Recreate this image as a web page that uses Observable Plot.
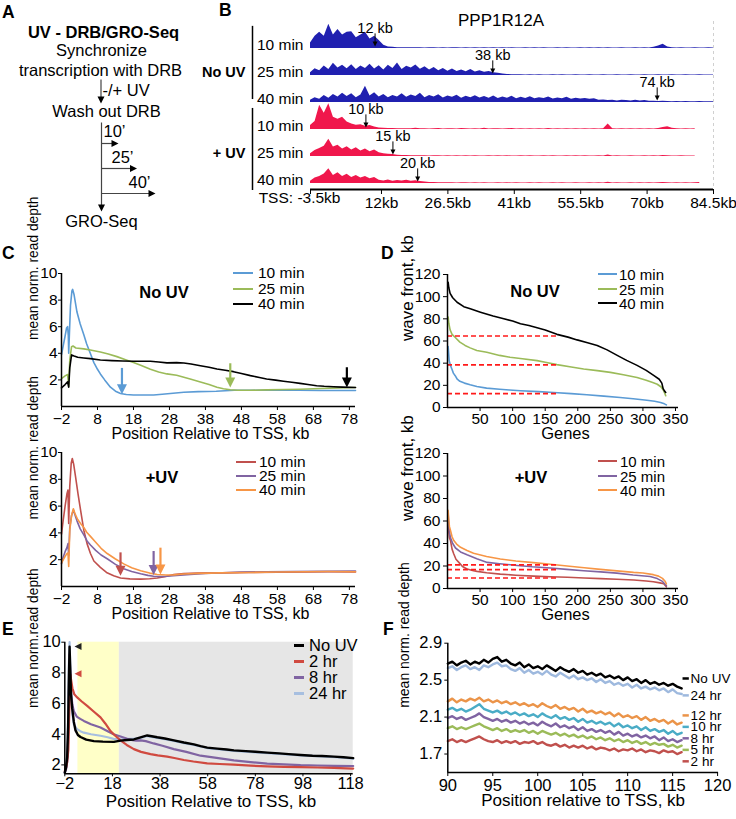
<!DOCTYPE html>
<html><head><meta charset="utf-8">
<script src="https://cdn.jsdelivr.net/npm/d3@7"></script>
<script src="https://cdn.jsdelivr.net/npm/@observablehq/plot@0.6"></script>
<style>
html,body{margin:0;padding:0;background:#fff;}
#root{position:relative;width:736px;height:819px;overflow:hidden;background:#fff;font-family:"Liberation Sans",Arial,Helvetica,sans-serif;color:#000;}
#root .lbl{position:absolute;white-space:nowrap;}
#root svg{position:absolute;overflow:visible;}
</style></head><body><div id="root"></div>
<script>
// ================= DATA =================
// Panel A (schematic)
const aTitle = "UV - DRB/GRO-Seq";
const aSteps = ["Synchronize", "transcription with DRB", "Wash out DRB", "GRO-Seq"];
const aTreatment = "-/+ UV";
const aTimes = [10, 25, 40];

// Panel B (GRO-seq tracks, 1-kb bins starting at TSS-3.5kb)
const bGene = "PPP1R12A";
const bStart = -3.5, bStep = 1;
const bTicks = [-3.5, 12, 26.5, 41, 55.5, 70, 84.5];
const bTrackNames = ["10 min", "25 min", "40 min", "10 min", "25 min", "40 min"];
const bNoUV10 = [2.0,4.5,6.0,4.5,9.0,5.0,7.0,5.0,6.0,6.2, 4.0,5.0,6.0,3.5,4.5,3.0,1.2,0.6,0.5,0.3,
 0.3,0.25,0.3,0.25,0.3,0.2,0.25,0.3,0.2,0.25, 0.2,0.25,0.3,0.2,0.25,0.2,0.3,0.2,0.25,0.2,
 0.25,0.2,0.3,0.2,0.25,0.2,0.2,0.25,0.2,0.3, 0.2,0.25,0.2,0.2,0.25,0.2,0.3,0.2,0.2,0.25,
 0.2,0.25,0.2,0.3,0.2,0.25,0.2,0.2,0.25,0.2, 0.2,0.25,0.2,0.3,0.2,0.5,0.9,1.6,0.6,0.3,
 0.2,0.25,0.2,0.2,0.25,0.2,0.2,0.25,0.2];
const bNoUV25 = [1.0,2.5,1.8,3.5,2.2,4.5,2.8,3.8,2.5,4.0, 2.2,3.5,2.6,4.2,2.4,3.6,2.0,3.8,2.6,4.6,
 2.2,3.4,2.8,3.9,2.3,3.2,2.0,3.0,1.8,2.6, 1.6,2.4,1.5,2.0,1.4,2.2,1.3,1.8,1.2,1.5,
 1.0,0.8,0.6,0.4,0.3,0.25,0.3,0.2,0.25,0.2, 0.25,0.2,0.2,0.25,0.2,0.3,0.2,0.2,0.25,0.2,
 0.2,0.25,0.2,0.2,0.25,0.2,0.2,0.3,0.2,0.2, 0.25,0.2,0.2,0.25,0.2,0.2,0.25,0.2,0.2,0.25,
 0.2,0.2,0.25,0.2,0.2,0.25,0.2,0.2,0.2];
const bNoUV40 = [0.8,1.8,1.2,2.6,1.6,3.0,2.0,3.4,2.2,3.2, 1.8,2.8,6.0,2.4,3.6,2.0,3.0,1.8,2.6,2.0,
 3.2,1.9,2.8,2.2,3.4,1.8,2.6,2.0,2.9,1.7, 2.4,1.9,2.7,1.6,2.3,1.8,2.5,1.7,2.2,1.6,
 2.4,1.5,2.0,1.6,2.3,1.4,1.9,1.5,2.1,1.4, 1.8,1.5,2.0,1.3,1.7,1.4,1.9,1.2,1.6,1.3,
 1.5,1.2,1.4,0.8,0.9,0.7,0.8,0.6,0.8,0.7, 0.6,0.8,0.6,0.7,0.5,0.5,0.4,0.5,0.4,0.3,
 0.4,0.3,0.4,0.3,0.3,0.4,0.3,0.3,0.3];
const bUV10 = [1.5,3.0,9.0,6.0,9.5,4.5,3.8,4.5,2.8,2.0, 1.6,1.8,1.2,1.5,0.9,0.6,0.5,0.4,0.4,0.3,
 0.3,0.25,0.3,0.5,0.25,0.3,0.2,0.25,0.4,0.2, 0.25,0.3,0.2,0.4,0.25,0.2,0.3,0.2,0.45,0.2,
 0.25,0.3,0.2,0.25,0.4,0.2,0.3,0.2,0.25,0.2, 0.3,0.2,0.4,0.2,0.25,0.2,0.3,0.2,0.25,0.2,
 0.3,0.2,0.25,0.2,0.3,2.0,0.3,0.2,0.25,0.2, 0.3,0.2,0.25,0.2,0.3,0.2,0.4,0.7,1.0,0.5,
 0.25,0.2,0.3,0.2,0.25];
const bUV25 = [1.0,2.2,3.0,3.8,6.4,3.5,4.2,2.8,3.6,2.4, 3.2,2.0,2.8,1.8,2.4,1.4,1.0,0.8,0.7,0.5,
 0.4,0.4,0.3,0.3,0.25,0.3,0.2,0.25,0.3,0.2, 0.25,0.2,0.3,0.2,0.25,0.2,0.3,0.2,0.2,0.25,
 0.2,0.3,0.2,0.25,0.2,0.2,0.3,0.2,0.25,0.2, 0.2,0.25,0.2,0.3,0.2,0.2,0.25,0.2,0.3,0.2,
 0.25,0.2,0.2,0.3,0.2,0.6,0.2,0.25,0.2,0.2, 0.3,0.2,0.2,0.25,0.2,0.3,0.2,0.4,0.3,0.2,
 0.2,0.25,0.2,0.2,0.2];
const bUV40 = [0.8,2.0,2.6,3.5,5.5,3.0,4.0,2.6,3.4,2.2, 3.0,2.0,2.6,1.8,2.2,1.2,0.9,1.3,0.8,1.1,
 0.9,1.2,0.8,1.0,0.7,0.6,0.4,0.4,0.3,0.3, 0.25,0.3,0.2,0.25,0.3,0.2,0.25,0.2,0.3,0.2,
 0.2,0.25,0.2,0.3,0.2,0.25,0.2,0.2,0.3,0.2, 0.25,0.2,0.2,0.25,0.2,0.3,0.2,0.2,0.25,0.2,
 0.2,0.3,0.2,0.25,0.2,0.5,0.2,0.25,0.2,0.2, 0.3,0.2,0.25,0.2,0.3,0.2,0.3,0.4,0.3,0.2,
 0.25,0.2,0.3,0.2,0.25,0.4];
const bArrowKb = [10.6, 36.3, 72.2, 8.6, 14.5, 19.9];
const bArrowLabels = ["12 kb", "38 kb", "74 kb", "10 kb", "15 kb", "20 kb"];

// Panel C (metagene, kb vs mean norm. read depth)
const cTicksX = [-2, 8, 18, 28, 38, 48, 58, 68, 78];
const cNoUV10 = [[-2,3.9],[-1.5,4.6],[-1,5.3],[-0.6,5.9],[-0.3,6.0],[-0.1,5.3],[0,4.0],[0.2,5.5],[0.5,7.6],[0.9,8.7],[1.1,8.8],[1.5,8.4],[2.3,7.1],[3.2,6.2],[4.2,5.4],[5,4.7],[6,4.0],[7,3.3],[8,2.8],[8.8,2.45],[10,2.0],[11.6,1.45],[13,1.15],[14.4,0.98],[16,0.9],[18,0.87],[21,0.86],[23.6,0.87],[26,0.92],[29,1.0],[32,1.07],[36,1.12],[41,1.15],[46,1.22],[52,1.22],[58,1.24],[64,1.22],[70,1.2],[76,1.2],[79.7,1.2]];
const cNoUV25 = [[-2,2.1],[-1,2.3],[-0.3,2.4],[0,1.5],[0.3,3.5],[0.8,4.5],[1.2,4.55],[2,4.4],[4.2,4.33],[6,4.25],[8.8,4.1],[11,3.95],[13.4,3.75],[16,3.5],[18,3.3],[20,3.1],[22.7,2.8],[25,2.6],[27.3,2.45],[30,2.35],[32,2.2],[34,2.05],[36.6,1.85],[39,1.65],[41.2,1.45],[43,1.33],[44.9,1.26],[47,1.22],[50.5,1.22],[55,1.25],[60,1.28],[64.3,1.3],[70,1.35],[75,1.4],[79.7,1.43]];
const cNoUV40 = [[-2,1.4],[-1,1.65],[-0.3,1.85],[0,1.45],[0.3,2.9],[0.8,3.88],[1.5,3.8],[2.5,3.7],[4.2,3.65],[6,3.6],[8.8,3.5],[12,3.45],[15,3.42],[18,3.4],[22.7,3.4],[25,3.35],[27.3,3.28],[30,3.3],[32,3.27],[34,3.2],[36.6,3.07],[39,2.95],[41.2,2.82],[43.5,2.72],[45.8,2.62],[48,2.48],[50.5,2.32],[53,2.18],[55,2.07],[57.5,1.98],[59.7,1.9],[62,1.82],[64.3,1.74],[66.5,1.65],[68.9,1.56],[71,1.52],[73.6,1.49],[76,1.46],[79.7,1.43]];
const cUV10 = [[-2,3.9],[-1.5,5.0],[-1,6.0],[-0.5,6.9],[-0.2,7.2],[0,4.7],[0.3,7.5],[0.7,9.2],[1,9.55],[1.4,9.1],[1.9,8.2],[2.6,6.9],[3.3,5.7],[4.2,4.2],[5.1,3.2],[6.05,2.46],[7,1.9],[8.8,1.43],[10.5,1.05],[12.5,0.8],[14.4,0.63],[17,0.57],[20,0.55],[22.5,0.58],[24.6,0.63],[27,0.75],[29.2,0.9],[32,0.97],[36,1.0],[42,1.02],[50,1.05],[58,1.07],[66,1.08],[72,1.1],[79.7,1.08]];
const cUV25 = [[-2,1.7],[-1.5,2.2],[-1,2.6],[-0.5,2.9],[-0.2,3.2],[0,2.3],[0.3,4.4],[0.8,5.3],[1.3,5.7],[1.8,5.3],[2.3,4.9],[3.2,4.3],[4.2,3.85],[5.1,3.4],[6.05,3.1],[7.5,2.7],[9,2.35],[10.7,2.07],[13,1.65],[15.3,1.33],[17.5,1.12],[20,0.95],[22,0.83],[23.6,0.76],[25.5,0.74],[27.3,0.76],[30,0.83],[33.8,0.9],[38,0.97],[43,1.03],[47.7,1.07],[55,1.1],[62,1.12],[70,1.13],[79.7,1.15]];
const cUV40 = [[-2,1.75],[-1.5,2.0],[-1,2.25],[-0.5,2.45],[-0.2,2.5],[0,1.5],[0.3,4.2],[0.8,5.3],[1.3,5.8],[1.8,5.4],[2.5,5.0],[3.3,4.7],[4.2,4.4],[5,4.05],[6.05,3.74],[7.5,3.3],[9,2.85],[10.7,2.46],[13,2.05],[15.3,1.69],[17.5,1.4],[20,1.18],[22.5,1.0],[24.6,0.9],[27,0.86],[29.2,0.87],[32,0.93],[36,0.98],[42,1.02],[50,1.05],[58,1.08],[66,1.1],[72,1.12],[79.7,1.1]];
const cNoUVArrows = [[14.8, 2.45, 0.93], [44.9, 2.8, 1.43], [77.3, 2.5, 1.43]];
const cUVArrows = [[14.4, 2.1, 0.8], [23.6, 2.2, 0.85], [25.5, 2.45, 0.9]];
const timeLabels = ["10 min", "25 min", "40 min"];

// Panel D (wave front per gene, sorted)
const dTicksX = [50, 100, 150, 200, 250, 300, 350];
const dNoUV10 = [[1,55],[2.6,42.3],[4.5,38],[6.7,34.7],[9,31],[11.8,28.7],[15,25.5],[19,23.6],[26,22],[34.8,20.5],[45,19],[60,17.5],[80,16.5],[95,15.8],[112,15.1],[140,14.3],[163,13.6],[190,12.5],[214,11.5],[240,10.3],[265,9],[285,7.9],[306,6.6],[318,5.6],[327,4.5],[333,3.3],[336,2.4]];
const dNoUV25 = [[1,81.6],[2,76],[4,70],[7,66],[11.6,63.4],[19,59],[27,56],[34.8,53.8],[45,51.5],[60.3,49.8],[80,47],[96,45.3],[115,44],[137.6,42.3],[150,40.8],[168,38.7],[190,36.5],[209,34.7],[230,33.3],[250,31.7],[270,29.5],[291,27],[305,24.5],[315,22.5],[322,21],[328,18.5],[332,15],[335,10.6]];
const dNoUV40 = [[1,113],[2,108],[4,103],[8,99],[14.7,95],[25,91],[35,89],[50.6,86],[70,82.5],[86.4,80],[100,78],[112,75.5],[125,74],[137.6,72],[150,70],[168,66],[185,63.5],[199,61],[215,58.5],[229.8,56],[245,52],[260.5,47],[275,42.5],[291,38],[305,33.5],[317,28.7],[325,25.5],[329,22],[331,17],[333,15],[335,13.6]];
const dUV10 = [[1,63.4],[2,50],[3,45],[4.6,42.6],[7,35],[9.7,30.7],[13,26],[17.4,23.2],[23,19.5],[30,17.3],[40,15.8],[45.5,15.2],[60,14],[81,12.8],[105,11.8],[132,11],[158,10.4],[184,10],[210,9.3],[235,8.8],[260,8.2],[286,7.5],[305,6.6],[316,6],[326,5],[332,4.2],[336,1.5]];
const dUV25 = [[1,66.4],[2,56],[3,50],[4.6,45],[8,40],[12.3,36],[20,32.5],[30,30],[45,26.5],[61,23.2],[80,22],[107,20.5],[130,19.3],[158,18.2],[183,17],[209,15.8],[235,14.8],[260,13.7],[285,12],[311,10.7],[322,8.8],[330,6.3],[336,2.4]];
const dUV40 = [[1,69.4],[2,60],[3,55],[4.6,51.5],[7,46],[9.7,42.6],[14,39.5],[20,36.6],[30,33.8],[40,31.3],[60,28.5],[81,26.2],[105,24.5],[132,23],[158,21.5],[183.6,20],[210,18.5],[234.7,17],[260,15.7],[285.7,14.3],[300,13.8],[316,12.3],[324,11],[330,9],[334,6.5],[336,4]];
const dNoUVMedians = [64.5, 38.5, 12.5];
const dUVMedians = [21, 16.8, 9.3];
const dMedianGeneSpan = 170;

// Panel E (long time course, kb vs read depth)
const eTicksX = [-2, 18, 38, 58, 78, 98, 118];
const eNames = ["No UV", "2 hr", "8 hr", "24 hr"];
const eNoUV = [[-2,1.5],[-1.5,1.8],[-1,2.5],[-0.6,4.5],[-0.3,7.5],[0,9.7],[0.3,8.2],[0.6,6.6],[1.1,5.7],[1.8,4.8],[2.5,4.25],[3.5,3.95],[4.6,3.82],[7,3.65],[10.2,3.55],[14,3.52],[18.6,3.5],[21.4,3.58],[24,3.62],[27,3.66],[29.8,3.8],[32.6,3.92],[34.5,3.87],[36.8,3.8],[40,3.72],[43.8,3.6],[48,3.46],[52.2,3.34],[55,3.22],[57.8,3.13],[62,3.06],[66,3.0],[69,2.95],[74,2.9],[78,2.86],[83,2.8],[88,2.75],[92,2.7],[97,2.65],[102,2.6],[106,2.58],[111,2.54],[115,2.5],[119.1,2.44]];
const e2hr = [[-2,1.6],[-1.5,1.8],[-1,2.2],[-0.5,3.0],[-0.2,5.0],[0.3,7.9],[0.7,7.5],[1.2,7.0],[2,6.6],[3.2,6.4],[5,6.15],[7.4,5.85],[10,5.5],[13,5.1],[15,4.7],[17.2,4.2],[19.2,3.9],[21.4,3.6],[24,3.3],[27,3.03],[30,2.85],[34,2.7],[37,2.62],[41,2.54],[44,2.45],[48,2.32],[52,2.22],[57.8,2.1],[63,2.06],[69,2.02],[76,1.95],[83,1.9],[90,1.87],[97,1.85],[104,1.83],[111,1.8],[119.1,1.76]];
const e8hr = [[-2,1.5],[-1.5,1.7],[-1,2.2],[-0.6,3.6],[-0.3,6.5],[0,9.2],[0.3,8.0],[0.7,6.6],[1.2,5.9],[1.8,5.5],[3,5.15],[4.5,5.0],[6,4.87],[9,4.65],[13,4.44],[16,4.2],[18.5,4.0],[21.4,3.85],[24.2,3.7],[26.5,3.62],[28,3.58],[29.8,3.6],[32,3.55],[35.3,3.4],[39,3.25],[43.8,3.03],[49,2.85],[55,2.6],[61,2.47],[69,2.3],[76,2.18],[83,2.08],[90,2.03],[97,1.98],[104,1.96],[111,1.94],[119.1,1.93]];
const e24hr = [[-2,1.5],[-1.5,1.8],[-1,2.6],[-0.6,5.0],[-0.3,8.5],[0,10],[0.3,8.4],[0.7,6.5],[1.2,5.3],[1.8,4.65],[3,4.35],[4.5,4.2],[6,4.1],[9,4.0],[13,3.9],[16,3.8],[18.5,3.7],[21.4,3.65],[24,3.7],[27,3.7],[29.8,3.75],[32.6,3.88],[36.8,3.76],[40,3.68],[43.8,3.56],[48,3.42],[52.2,3.3],[57.8,3.1],[62,3.03],[69,2.92],[78,2.82],[88,2.72],[97,2.62],[106,2.55],[115,2.47],[119.1,2.4]];
const eYellowBand = [3.5, 20.9];
const eGreyBand = [20.9, 119.1];
const eMarkers = [[3.55, 9.72], [3.55, 7.94]];

// Panel F (90-116 kb, 0.5-kb steps)
const fStart = 90, fStep = 0.5;
const fTicksX = [90, 95, 100, 105, 110, 115, 120];
const fTicksY = [1.7, 2.1, 2.5, 2.9];
const fNames = ["No UV", "24 hr", "12 hr", "10 hr", "8 hr", "5 hr", "2 hr"];
const fNoUV = [2.68,2.70,2.66,2.69,2.71,2.67,2.70,2.68,2.72,2.69, 2.73,2.75,2.70,2.72,2.68,2.66,2.69,2.64,2.67,2.63,
 2.65,2.62,2.66,2.63,2.60,2.64,2.61,2.59,2.62,2.58, 2.60,2.56,2.58,2.55,2.57,2.53,2.55,2.52,2.54,2.50,
 2.53,2.49,2.51,2.47,2.50,2.46,2.48,2.45,2.47,2.44, 2.46,2.43,2.41];
const f24 = [2.63,2.65,2.61,2.64,2.66,2.62,2.64,2.61,2.66,2.64, 2.67,2.69,2.65,2.66,2.62,2.60,2.63,2.58,2.61,2.57,
 2.59,2.56,2.60,2.56,2.54,2.58,2.55,2.52,2.55,2.51, 2.53,2.50,2.52,2.48,2.51,2.47,2.49,2.45,2.47,2.44,
 2.46,2.42,2.45,2.41,2.43,2.40,2.42,2.39,2.41,2.37, 2.40,2.36,2.35];
const f12 = [2.27,2.30,2.26,2.29,2.27,2.30,2.28,2.31,2.27,2.29, 2.26,2.28,2.25,2.27,2.24,2.26,2.23,2.25,2.22,2.24,
 2.21,2.25,2.22,2.20,2.23,2.19,2.21,2.18,2.20,2.16, 2.19,2.15,2.17,2.14,2.16,2.13,2.15,2.11,2.14,2.10,
 2.12,2.09,2.11,2.07,2.10,2.06,2.08,2.05,2.07,2.03, 2.06,2.02,2.04];
const f10 = [2.18,2.20,2.17,2.19,2.16,2.18,2.21,2.24,2.19,2.17, 2.15,2.17,2.14,2.16,2.13,2.15,2.12,2.14,2.11,2.13,
 2.10,2.14,2.11,2.09,2.12,2.08,2.10,2.07,2.09,2.05, 2.08,2.04,2.06,2.03,2.05,2.02,2.04,2.00,2.03,1.99,
 2.01,1.98,2.00,1.96,1.99,1.95,1.97,1.94,1.96,1.92, 1.95,1.91,1.93];
const f8 = [2.09,2.11,2.08,2.10,2.07,2.09,2.11,2.14,2.10,2.08, 2.06,2.08,2.05,2.07,2.04,2.06,2.03,2.05,2.02,2.04,
 2.01,2.05,2.02,2.00,2.03,1.99,2.01,1.98,2.00,1.96, 1.99,1.95,1.97,1.94,1.96,1.93,1.95,1.91,1.94,1.90,
 1.92,1.89,1.91,1.88,1.90,1.87,1.89,1.85,1.88,1.84, 1.86,1.83,1.85];
const f5 = [1.98,2.00,1.97,1.99,1.97,1.99,2.01,2.03,2.00,1.98, 1.96,1.98,1.95,1.97,1.94,1.96,1.94,1.96,1.93,1.95,
 1.92,1.95,1.93,1.91,1.93,1.90,1.92,1.89,1.91,1.88, 1.90,1.87,1.89,1.86,1.88,1.85,1.87,1.84,1.86,1.83,
 1.85,1.82,1.84,1.81,1.83,1.80,1.82,1.80,1.81,1.78, 1.80,1.77,1.79];
const f2 = [1.84,1.86,1.83,1.85,1.83,1.85,1.87,1.89,1.86,1.84, 1.83,1.85,1.82,1.84,1.82,1.84,1.81,1.83,1.82,1.84,
 1.81,1.83,1.80,1.79,1.81,1.78,1.80,1.77,1.79,1.77, 1.79,1.76,1.78,1.75,1.77,1.76,1.74,1.76,1.73,1.75,
 1.74,1.76,1.73,1.75,1.72,1.74,1.73,1.71,1.74,1.72, 1.73,1.70,1.72];
const fLabelY = [2.518, 2.335, 2.118, 1.994, 1.870, 1.745, 1.621];

// ================= STYLE / HELPERS =================
const FONT = '"Liberation Sans", Arial, Helvetica, sans-serif';
const COL = {
  blue: "#5b9bd5", green: "#9bbb59", black: "#000000", red: "#c0504d", purple: "#8064a2", orange: "#f79646",
  trackBlue: "#2020b0", trackRed: "#f0174c",
  eRed: "#d04a40", eBlue: "#a7bfe0",
  fOrange: "#eb9449", fTeal: "#4aacc6", fGreen: "#9bbb59", fBlue: "#9eb9de", dash: "#ff1a1a"
};
const root = document.getElementById("root");
const st = fs => ({fontFamily: FONT, fontSize: fs + "px", background: "transparent", overflow: "visible", color: "#000"});
function put(svg, left, top) { svg.style.left = left + "px"; svg.style.top = top + "px"; root.appendChild(svg); }
function label(text, x, y, size, opts = {}) {
  const d = document.createElement("div");
  d.className = "lbl"; d.textContent = text;
  d.style.fontSize = size + "px"; d.style.lineHeight = size + "px";
  if (opts.bold) d.style.fontWeight = "bold";
  d.style.top = (y - size * 0.49) + "px";
  if (opts.anchor === "middle") { d.style.left = x + "px"; d.style.transform = "translateX(-50%)"; }
  else if (opts.anchor === "end") { d.style.right = (736 - x) + "px"; }
  else d.style.left = x + "px";
  root.appendChild(d);
}
function legend(names, colors, x1, x2, tx, ys, size, lw) {
  names.forEach((n, i) => {
    const l = document.createElement("div");
    l.style.cssText = `position:absolute;left:${x1}px;top:${ys[i] - lw / 2}px;width:${x2 - x1}px;height:${lw}px;background:${colors[i]}`;
    root.appendChild(l);
    label(n, tx, ys[i], size);
  });
}
const sym = pts => ({draw(c, size) { const s = Math.sqrt(size / Math.PI); c.moveTo(pts[0][0]*s, pts[0][1]*s); c.lineTo(pts[1][0]*s, pts[1][1]*s); c.lineTo(pts[2][0]*s, pts[2][1]*s); c.closePath(); }});
const triDown = sym([[-1,-1],[1,-1],[0,1]]);
const triRight = sym([[-1,-1],[-1,1],[1,0]]);
const triLeft = sym([[1,-1],[1,1],[-1,0]]);
const px = d => d[0], py = d => d[1];

// ================= PANEL A =================
const LA = {title: [103, 32], steps: [[101, 50], [100, 70], [106, 111], [101, 221]], treat: [102, 90],
  v1: [100.5, 79, 103], v2: [101, 122, 211], hy: [143, 168, 193], hx0: 101, tl: [[103, 131], [111, 157], [128, 182]]};
const tipX = d3.scaleLinear([10, 40], [118, 155]);
put(Plot.plot({
  width: 215, height: 235, margin: 0,
  x: {type: "identity", axis: null}, y: {type: "identity", axis: null}, style: st(16.5),
  marks: [
    Plot.text([aTitle], {x: LA.title[0], y: LA.title[1], text: d => d, fontWeight: "bold", fontSize: 16.5}),
    Plot.text(aSteps, {x: (d, i) => LA.steps[i][0], y: (d, i) => LA.steps[i][1], text: d => d, fontSize: 16.5}),
    Plot.text([aTreatment], {x: LA.treat[0], y: LA.treat[1], text: d => d, textAnchor: "start", fontSize: 16.5}),
    Plot.link([LA.v1, LA.v2], {x1: d => d[0], x2: d => d[0], y1: d => d[1], y2: d => d[2] - 5, stroke: "#444", strokeWidth: 1.2}),
    Plot.dot([LA.v1, LA.v2], {x: d => d[0], y: d => d[2] - 3.5, r: 3.5, symbol: triDown, fill: "#000", stroke: "none"}),
    Plot.link(aTimes, {x1: LA.hx0, x2: t => tipX(t) - 5, y1: (t, i) => LA.hy[i], y2: (t, i) => LA.hy[i], stroke: "#444", strokeWidth: 1.2}),
    Plot.dot(aTimes, {x: t => tipX(t) - 3.5, y: (t, i) => LA.hy[i], r: 3.5, symbol: triRight, fill: "#000", stroke: "none"}),
    Plot.text(aTimes, {x: (t, i) => LA.tl[i][0], y: (t, i) => LA.tl[i][1], text: t => t + "\u2019", textAnchor: "start", fontSize: 16.5})
  ]
}), 0, 0);

// ================= PANEL B =================
const bSeries = [bNoUV10, bNoUV25, bNoUV40, bUV10, bUV25, bUV40];
const bColors = [COL.trackBlue, COL.trackBlue, COL.trackBlue, COL.trackRed, COL.trackRed, COL.trackRed];
const TRACK = 10, bY0 = -2.22;
const baseOf = i => (5 - i) * TRACK;
const bMarks = [
  Plot.ruleX([84.5], {stroke: "#d0d0d0", strokeDasharray: "3,3"}),
  ...bSeries.map((vals, i) => Plot.areaY(vals.map((v, j) => ({kb: bStart + j * bStep, v})),
    {x: "kb", y1: () => baseOf(i), y2: d => baseOf(i) + d.v, fill: bColors[i], curve: "linear"})),
  Plot.text(bTrackNames, {x: bStart, y: (d, i) => baseOf(i) + 1.2, text: d => d, textAnchor: "end", dx: -7, fontSize: 15.5}),
  Plot.text(["No UV"], {x: bStart, y: baseOf(1) + 1.2, text: d => d, textAnchor: "end", dx: -65, fontWeight: "bold", fontSize: 14.5}),
  Plot.text(["+ UV"], {x: bStart, y: baseOf(4) + 1.2, text: d => d, textAnchor: "end", dx: -65, fontWeight: "bold", fontSize: 14.5}),
  Plot.ruleX([bStart], {y1: baseOf(0) + 8.2, y2: baseOf(2) + 1.1, dx: -58, strokeWidth: 1.5}),
  Plot.ruleX([bStart], {y1: baseOf(3) + 7.8, y2: baseOf(5) - 2.6, dx: -58, strokeWidth: 1.5}),
  Plot.text(bArrowLabels, {x: (d, i) => bArrowKb[i], y: (d, i) => baseOf(i) + 7.4, text: d => d, fontSize: 14.5}),
  Plot.link(bArrowKb, {x1: d => d, x2: d => d, y1: (d, i) => baseOf(i) + 5.6, y2: (d, i) => baseOf(i) + 1.6, strokeWidth: 1}),
  Plot.dot(bArrowKb, {x: d => d, y: (d, i) => baseOf(i) + 0.75, dy: -2.5, r: 2.5, symbol: triDown, fill: "#000", stroke: "none"}),
  Plot.ruleY([bY0], {strokeWidth: 2}),
  Plot.text([bGene], {frameAnchor: "top", dy: -8, dx: -11, text: d => d, fontSize: 17}),
  Plot.text(["TSS: -3.5kb"], {x: bStart, frameAnchor: "bottom", dy: 13, dx: 30, text: d => d, textAnchor: "end", fontSize: 15.5})
];
put(Plot.plot({
  width: 496, height: 215, marginLeft: 70, marginRight: 23, marginTop: 21, marginBottom: 26,
  x: {domain: [-3.5, 84.5], ticks: bTicks, tickFormat: d => d === bStart ? "" : d + "kb", tickSize: 5, tickPadding: 2.5, label: null},
  y: {domain: [bY0, 60], axis: null},
  style: st(15.5), marks: bMarks
}), 240, 0);

// ================= PANEL C =================
function arrowMarks(arrs, colors) {
  return arrs.flatMap((a, i) => [
    Plot.link([a], {x1: px, x2: px, y1: d => d[1], y2: d => d[2], dy: -6, stroke: colors[i], strokeWidth: 2.2}),
    Plot.dot([a], {x: px, y: d => d[2], dy: -5, r: 5, symbol: triDown, fill: colors[i], stroke: "none"})
  ]);
}
function cPlot(series, colors, arrows, mTop, mBottom, tickPad, xLabelDy) {
  return Plot.plot({
    width: 370, height: 182, marginLeft: 61, marginRight: 15, marginTop: mTop, marginBottom: mBottom,
    x: {domain: [-2, 79.7], ticks: cTicksX, tickSize: 4, tickPadding: tickPad, label: null},
    y: {domain: [0, 10], ticks: [2, 4, 6, 8, 10], tickSize: 3, tickPadding: 1, label: null},
    style: st(15.5),
    marks: [
      ...series.map((s, i) => Plot.line(s, {x: px, y: py, stroke: colors[i], strokeWidth: 1.6})),
      ...arrowMarks(arrows, colors),
      Plot.ruleX([-2], {strokeWidth: 1.5}), Plot.ruleY([0], {strokeWidth: 1.5}),
      Plot.text(["Position Relative to TSS, kb"], {frameAnchor: "bottom", dy: xLabelDy, dx: 2, text: d => d, fontSize: 16}),
      Plot.text(["mean norm. read depth"], {frameAnchor: "left", rotate: -90, dx: -28, text: d => d, fontSize: 13.8})
    ]
  });
}
put(cPlot([cNoUV10, cNoUV25, cNoUV40], [COL.blue, COL.green, COL.black], cNoUVArrows, 15, 34, 2.45, 32.1), 0, 258);
put(cPlot([cUV10, cUV25, cUV40], [COL.red, COL.purple, COL.orange], cUVArrows, 12, 36, 2.95, 32.6), 0, 440);
label("No UV", 164, 292, 16.5, {bold: true, anchor: "middle"});
label("+UV", 162, 477, 16.5, {bold: true, anchor: "middle"});
legend(timeLabels, [COL.blue, COL.green, COL.black], 233, 253, 258, [273, 289, 304], 15.5, 2);
legend(timeLabels, [COL.red, COL.purple, COL.orange], 236, 256, 259, [462, 476, 490], 15.5, 2);

// ================= PANEL D =================
function dPlot(series, colors, medians, mTop, mBottom) {
  return Plot.plot({
    width: 366, height: 182, marginLeft: 77, marginRight: 58, marginTop: mTop, marginBottom: mBottom,
    x: {domain: [0, 354.6], ticks: dTicksX, tickSize: 4, tickPadding: 1.45, label: null},
    y: {domain: [0, 120], ticks: [0, 20, 40, 60, 80, 100, 120], tickSize: 4, tickPadding: 3, label: null},
    style: st(15.5),
    marks: [
      ...series.map((s, i) => Plot.line(s, {x: px, y: py, stroke: colors[i], strokeWidth: 1.6})),
      Plot.ruleY(medians, {x1: 0, x2: dMedianGeneSpan, stroke: COL.dash, strokeWidth: 1.6, strokeDasharray: "5,3"}),
      Plot.ruleX([0], {strokeWidth: 1.5}), Plot.ruleY([0], {strokeWidth: 1.5}),
      Plot.text(["Genes"], {frameAnchor: "bottom", dy: 31.1, dx: 2.5, text: d => d, fontSize: 16.5}),
      Plot.text(["wave front, kb"], {frameAnchor: "left", rotate: -90, dx: -39.5, text: d => d, fontSize: 17})
    ]
  });
}
put(dPlot([dNoUV10, dNoUV25, dNoUV40], [COL.blue, COL.green, COL.black], dNoUVMedians, 16, 33), 370, 258);
put(dPlot([dUV10, dUV25, dUV40], [COL.red, COL.purple, COL.orange], dUVMedians, 13, 34), 370, 440);
label("No UV", 535, 291, 16.5, {bold: true, anchor: "middle"});
label("+UV", 531, 477, 16.5, {bold: true, anchor: "middle"});
legend(timeLabels, [COL.blue, COL.green, COL.black], 598, 617, 619, [274, 289, 303], 15, 2);
legend(timeLabels, [COL.red, COL.purple, COL.orange], 598, 617, 620, [461, 476, 490], 15, 2);

// ================= PANEL E =================
const eSeries = [e24hr, e8hr, e2hr, eNoUV];
const eColors = [COL.eBlue, COL.purple, COL.eRed, COL.black];
put(Plot.plot({
  width: 370, height: 197, marginLeft: 64.3, marginRight: 17.3, marginTop: 19.7, marginBottom: 45.7,
  x: {domain: [-2, 119.1], ticks: eTicksX, tickSize: 3, tickPadding: 0, label: null},
  y: {domain: [1.42, 10], ticks: [2, 4, 6, 8, 10], tickSize: 3, tickPadding: 1, label: null},
  style: st(16.5),
  marks: [
    Plot.rect([eYellowBand], {x1: px, x2: py, y1: 1.42, y2: 10, fill: "#ffffc8"}),
    Plot.rect([eGreyBand], {x1: px, x2: py, y1: 1.42, y2: 10, fill: "#e6e6e6"}),
    ...eSeries.map((s, i) => Plot.line(s, {x: px, y: py, stroke: eColors[i], strokeWidth: i === 3 ? 2.4 : 2.2})),
    Plot.dot(eMarkers, {x: px, y: py, r: 3.5, symbol: triLeft, fill: (d, i) => i === 0 ? "#222" : COL.eRed, stroke: "none"}),
    Plot.ruleX([-2], {strokeWidth: 1.5}), Plot.ruleY([1.42], {strokeWidth: 1.5}),
    Plot.text(["Position Relative to TSS, kb"], {frameAnchor: "bottom", dy: 33.3, dx: 2, text: d => d, fontSize: 17}),
    Plot.text(["mean norm.read depth"], {frameAnchor: "left", rotate: -90, dx: -31, text: d => d, fontSize: 13.8})
  ]
}), 0, 622);
legend(eNames, [COL.black, COL.eRed, COL.purple, COL.eBlue], 294, 304, 309, [645, 661, 677, 693], 16.5, 3);

// ================= PANEL F =================
const fSeries = [f24, fNoUV, f12, f10, f8, f5, f2];
const fSeriesColors = [COL.fBlue, COL.black, COL.fOrange, COL.fTeal, COL.purple, COL.fGreen, COL.red];
const fLabelColors = [COL.black, COL.fBlue, COL.fOrange, COL.fTeal, COL.purple, COL.fGreen, COL.red];
put(Plot.plot({
  width: 366, height: 197, marginLeft: 77.3, marginRight: 18, marginTop: 20.7, marginBottom: 47,
  x: {domain: [90, 120.1], ticks: fTicksX, tickSize: 4, tickPadding: 3, label: null},
  y: {domain: [1.5, 2.9], ticks: fTicksY, tickFormat: d3.format(".1f"), tickSize: 3, tickPadding: 2.5, label: null},
  style: st(16.5),
  marks: [
    ...fSeries.map((s, i) => Plot.line(s.map((v, j) => [fStart + j * fStep, v]), {x: px, y: py, stroke: fSeriesColors[i], strokeWidth: 2.4})),
    ...fNames.map((n, i) => Plot.link([fLabelY[i]], {x1: 116.1, x2: 116.8, y1: d => d, y2: d => d, stroke: fLabelColors[i], strokeWidth: 2.5})),
    Plot.text(fNames, {x: 117.0, y: (d, i) => fLabelY[i], text: d => d, textAnchor: "start", fontSize: 13.5}),
    Plot.ruleX([90], {strokeWidth: 1.5}), Plot.ruleY([1.5], {strokeWidth: 1.5}),
    Plot.text(["Position relative to TSS, kb"], {frameAnchor: "bottom", dy: 33.6, text: d => d, fontSize: 17}),
    Plot.text(["mean norm. read depth"], {frameAnchor: "left", rotate: -90, dx: -43, text: d => d, fontSize: 14})
  ]
}), 370, 622);

// ================= PANEL LETTERS =================
[["A", 2, 12.5], ["B", 219, 11], ["C", 2, 254], ["D", 381, 254], ["E", 2, 630], ["F", 383, 630]]
  .forEach(([t, x, y]) => label(t, x, y, 17.5, {bold: true}));
</script></body></html>
